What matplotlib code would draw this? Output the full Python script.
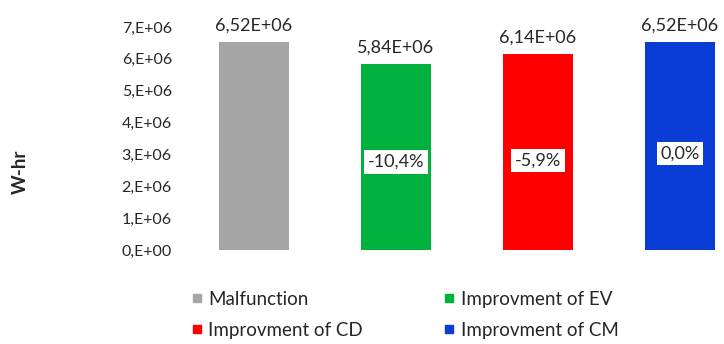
import matplotlib
matplotlib.use("Agg")
import matplotlib.pyplot as plt
from matplotlib.lines import Line2D

plt.rcParams['font.family'] = ['Lato', 'DejaVu Sans']

# Energy per scenario (W-hr)
categories = ["Malfunction", "Improvment of EV", "Improvment of CD", "Improvment of CM"]
energy = [6.52e6, 5.84e6, 6.14e6, 6.52e6]
value_labels = ["6,52E+06", "5,84E+06", "6,14E+06", "6,52E+06"]
change_labels = [None, "-10,4%", "-5,9%", "0,0%"]
change_label_y = [None, 2.76e6, 2.82e6, 3.04e6]
y_ticks = [0, 1e6, 2e6, 3e6, 4e6, 5e6, 6e6, 7e6]
y_tick_labels = ["0,E+00", "1,E+06", "2,E+06", "3,E+06", "4,E+06", "5,E+06", "6,E+06", "7,E+06"]
colors = ["#a5a5a5", "#00b13d", "#ff0000", "#0a3cd6"]

W, H = 724, 344
fig = plt.figure(figsize=(W / 100, H / 100), dpi=100)
ax_left, ax_right, ax_bottom, ax_top = 183, 724, 250, 27
ax = fig.add_axes([ax_left / W, (H - ax_bottom) / H,
                   (ax_right - ax_left) / W, (ax_bottom - ax_top) / H])

x = list(range(len(categories)))
bars = ax.bar(x, energy, width=0.49, color=colors)

ax.set_xlim(-0.5, -0.5 + (ax_right - ax_left) / 142)
ax.set_ylim(0, 7e6)
ax.set_yticks(y_ticks)
ax.set_yticklabels(y_tick_labels, fontsize=11.5, color="#262626")
ax.tick_params(axis="y", length=0, pad=8)
ax.set_xticks([])
for s in ax.spines.values():
    s.set_visible(False)

fig.text(20 / W, 1 - 172 / H, "W-hr", rotation=90, ha="center", va="center",
         fontsize=13.5, fontweight="bold", color="#262626")

for xi, v, lab in zip(x, energy, value_labels):
    ax.annotate(lab, (xi, v), xytext=(0, 6), textcoords="offset points",
                ha="center", va="bottom", fontsize=13, color="#262626")

for xi, lab, yy in zip(x, change_labels, change_label_y):
    if lab is None:
        continue
    ax.text(xi, yy, lab, ha="center", va="center", fontsize=13, color="#262626",
            bbox=dict(boxstyle="square,pad=0.2", facecolor="white", edgecolor="none"))

order = [0, 2, 1, 3]
handles = [Line2D([], [], linestyle="none", marker="s", markersize=6,
                  markerfacecolor=colors[i], markeredgecolor=colors[i]) for i in order]
labels = [categories[i] for i in order]
fig.legend(handles, labels, loc="center", bbox_to_anchor=(405 / W, 1 - 315 / H),
           ncol=2, frameon=False, fontsize=13.5, handlelength=0.6, handletextpad=0.3,
           columnspacing=4.3, labelspacing=0.75, labelcolor="#262626",
           borderpad=0, borderaxespad=0)

fig.savefig("out.png", dpi=100)
